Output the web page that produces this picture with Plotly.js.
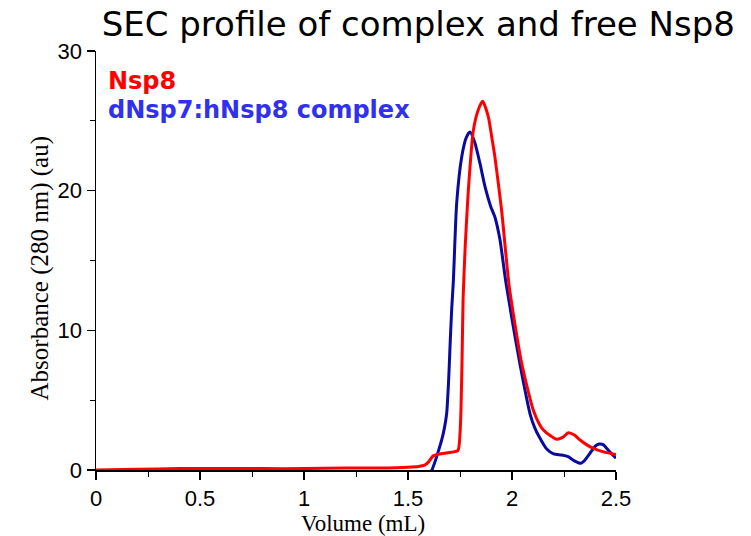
<!DOCTYPE html>
<html>
<head>
<meta charset="utf-8">
<script src="https://cdn.plot.ly/plotly-3.0.1.min.js"></script>
<style>html,body{margin:0;padding:0;background:#fff;}#chart{width:751px;height:536px;}</style>
</head>
<body>
<div id="chart"></div>
<script>
// Nsp8 (free)
const nsp8Volume = [0, 0.2, 0.4, 0.6, 0.8, 1.0, 1.2, 1.4, 1.5, 1.55, 1.58, 1.6, 1.62, 1.65, 1.7, 1.74, 1.75, 1.755, 1.76, 1.765, 1.775, 1.79, 1.814, 1.838, 1.859, 1.886, 1.902, 1.918, 1.95, 1.987, 2.047, 2.102, 2.131, 2.151, 2.185, 2.215, 2.245, 2.271, 2.3, 2.327, 2.36, 2.391, 2.44, 2.5];
const nsp8Abs    = [0, 0.05, 0.1, 0.1, 0.1, 0.1, 0.15, 0.15, 0.2, 0.25, 0.35, 0.6, 1.0, 1.15, 1.25, 1.4, 2.6, 4.5, 8.0, 12.3, 16.0, 20.0, 24.3, 25.8, 26.4, 25.3, 23.9, 22.4, 18.6, 13.1, 7.6, 4.3, 3.3, 2.86, 2.45, 2.2, 2.35, 2.67, 2.5, 2.15, 1.8, 1.55, 1.3, 1.1];
// dNsp7:hNsp8 complex
const complexVolume = [0, 1.55, 1.6, 1.615, 1.63, 1.645, 1.662, 1.675, 1.686, 1.695, 1.702, 1.71, 1.718, 1.734, 1.758, 1.78, 1.798, 1.82, 1.846, 1.87, 1.898, 1.918, 1.942, 1.97, 2.0, 2.038, 2.087, 2.11, 2.13, 2.167, 2.2, 2.239, 2.27, 2.3, 2.33, 2.35, 2.375, 2.4, 2.42, 2.44, 2.455, 2.48, 2.5];
const complexAbs    = [-1, -1, -0.4, 0, 0.6, 1.3, 2.15, 3.0, 4.06, 6.3, 8.83, 11.5, 13.5, 19.1, 22.4, 23.8, 24.2, 23.5, 21.95, 20.3, 18.85, 18.1, 16.5, 13.5, 10.8, 7.6, 4.0, 3.0, 2.4, 1.5, 1.15, 1.07, 0.95, 0.65, 0.48, 0.7, 1.2, 1.7, 1.86, 1.8, 1.55, 1.15, 0.84];

const xTicks = [0, 0.5, 1, 1.5, 2, 2.5];
const xTickText = ['0', '0.5', '1', '1.5', '2', '2.5'];
const yTicks = [0, 10, 20, 30];
const yTickText = ['0', '10', '20', '30'];
const seriesNames = ['Nsp8', 'dNsp7:hNsp8 complex'];
const xTitle = 'Volume (mL)';
const yTitle = 'Absorbance (280 nm) (au)';

const traces = [
  {x: complexVolume, y: complexAbs, mode: 'lines', name: seriesNames[1],
   line: {color: '#0a0aa0', width: 3, shape: 'spline', smoothing: 0.6}},
  {x: nsp8Volume, y: nsp8Abs, mode: 'lines', name: seriesNames[0],
   line: {color: '#ff0000', width: 3, shape: 'spline', smoothing: 0.6}}
];

const layout = {
  width: 751, height: 536,
  margin: {l: 96, r: 135, t: 51, b: 66},
  paper_bgcolor: '#fff', plot_bgcolor: '#fff',
  showlegend: false,
  title: {text: 'SEC profile of complex and free Nsp8', x: 0.557, xanchor: 'center', y: 0.955, yanchor: 'middle',
          font: {family: 'DejaVu Sans', size: 34, color: '#000'}},
  xaxis: {range: [0, 2.5], showgrid: false, zeroline: false, showline: true, linecolor: '#000', linewidth: 1.5,
          ticks: 'outside', ticklen: 8, tickwidth: 1.5, tickcolor: '#000',
          tickvals: xTicks, ticktext: xTickText,
          minor: {dtick: 0.25, tick0: 0, ticks: 'outside', ticklen: 5, tickwidth: 1, tickcolor: '#000', showgrid: false},
          tickfont: {family: 'Liberation Sans', size: 22, color: '#000'}},
  yaxis: {range: [0, 30], showgrid: false, zeroline: false, showline: true, linecolor: '#000', linewidth: 1.5,
          ticks: 'outside', ticklen: 8, tickwidth: 1.5, tickcolor: '#000',
          tickvals: yTicks, ticktext: yTickText,
          minor: {dtick: 5, tick0: 0, ticks: 'outside', ticklen: 5, tickwidth: 1, tickcolor: '#000', showgrid: false},
          tickfont: {family: 'Liberation Sans', size: 22, color: '#000'}},
  annotations: [
    {text: '<b>' + seriesNames[0] + '</b>', xref: 'paper', yref: 'paper', x: 0.02, y: 0.928, xanchor: 'left', yanchor: 'middle',
     showarrow: false, font: {family: 'DejaVu Sans', size: 24, color: '#ff0000'}},
    {text: '<b>' + seriesNames[1] + '</b>', xref: 'paper', yref: 'paper', x: 0.02, y: 0.86, xanchor: 'left', yanchor: 'middle',
     showarrow: false, font: {family: 'DejaVu Sans', size: 24, color: '#3030f0'}},
    {text: xTitle, xref: 'paper', yref: 'paper', x: 0.513, y: -0.128, xanchor: 'center', yanchor: 'middle',
     showarrow: false, font: {family: 'Liberation Serif', size: 23, color: '#000'}},
    {text: yTitle, xref: 'paper', yref: 'paper', x: -0.108, y: 0.483, xanchor: 'center', yanchor: 'middle', textangle: -90,
     showarrow: false, font: {family: 'Liberation Serif', size: 25, color: '#000'}}
  ]
};

Plotly.newPlot('chart', traces, layout, {displayModeBar: false, staticPlot: true});
</script>
</body>
</html>
